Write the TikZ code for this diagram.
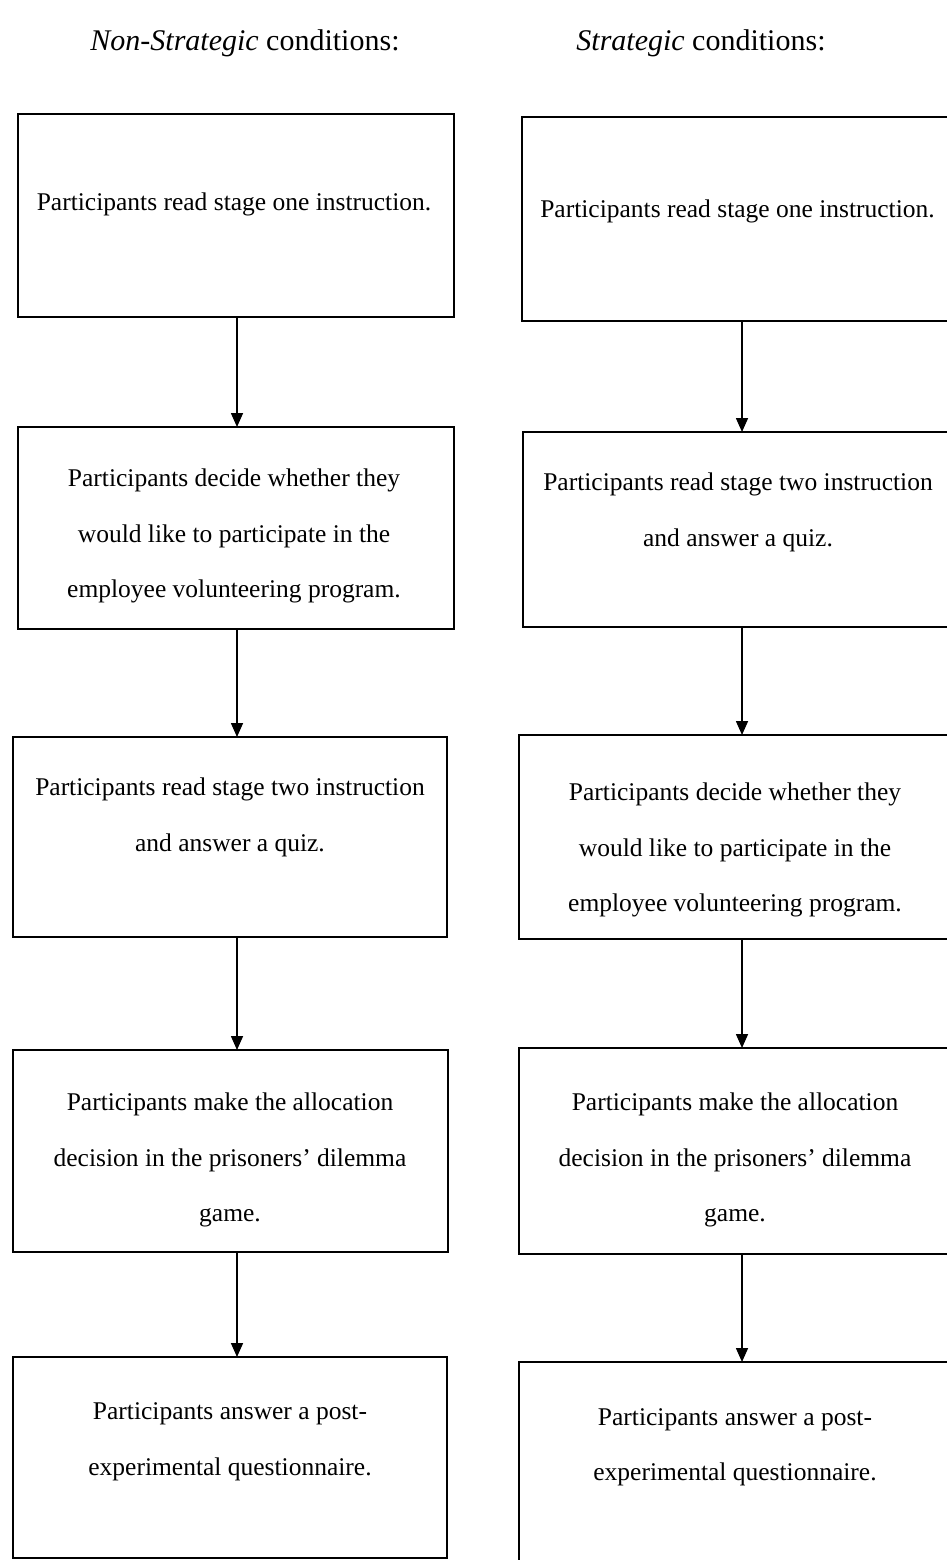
\documentclass[tikz,border=0pt]{standalone}
\usepackage{fontspec}
\setmainfont{Liberation Serif}
\usetikzlibrary{arrows.meta}
\tikzset{
  box/.style={draw=black, line width=1.6pt, rectangle, inner sep=0pt, outer sep=0pt, fill=none},
  txt/.style={align=center, inner sep=0pt, font=\fontsize{25.5}{55.5}\selectfont},
  ttl/.style={inner sep=0pt, font=\fontsize{30}{36}\selectfont},
  arr/.style={line width=1.6pt, -{Triangle[length=14pt,width=12pt]}}
}
\begin{document}
\begin{tikzpicture}[x=1pt,y=-1pt]
\useasboundingbox (0,0) rectangle (947,1560);
\clip (0,0) rectangle (947,1560);
% titles
\node[ttl] (T1) at (245,43) {\textit{Non-Strategic} conditions:};
\node[ttl] (T2) at (701,43) {\textit{Strategic} conditions:};
% left column boxes
\node[box, minimum width=436pt, minimum height=203pt] (L1) at (236,215.5) {};
\node[box, minimum width=436pt, minimum height=202pt] (L2) at (236,528) {};
\node[box, minimum width=434pt, minimum height=200pt] (L3) at (230,837) {};
\node[box, minimum width=435pt, minimum height=202pt] (L4) at (230.5,1151) {};
\node[box, minimum width=434pt, minimum height=201pt] (L5) at (230,1457.5) {};
% right column boxes
\node[box, minimum width=436pt, minimum height=204pt] (R1) at (740,219) {};
\node[box, minimum width=436pt, minimum height=195pt] (R2) at (741,529.5) {};
\node[box, minimum width=436pt, minimum height=204pt] (R3) at (737,837) {};
\node[box, minimum width=436pt, minimum height=206pt] (R4) at (737,1151) {};
\node[box, minimum width=436pt, minimum height=200pt] (R5) at (737,1462) {};
% left texts
\node[txt] (L1t) at (234,199) {\strut Participants read stage one instruction.\strut};
\node[txt] (L2t) at (234,531) {\strut Participants decide whether they\strut\\\strut would like to participate in the\strut\\\strut employee volunteering program.\strut};
\node[txt] (L3t) at (230,812.5) {\strut Participants read stage two instruction\strut\\\strut and answer a quiz.\strut};
\node[txt] (L4t) at (230,1155) {\strut Participants make the allocation\strut\\\strut decision in the prisoners’ dilemma\strut\\\strut game.\strut};
\node[txt] (L5t) at (230,1436.5) {\strut Participants answer a post-\strut\\\strut experimental questionnaire.\strut};
% right texts
\node[txt] (R1t) at (737.5,206) {\strut Participants read stage one instruction.\strut};
\node[txt] (R2t) at (738,507.5) {\strut Participants read stage two instruction\strut\\\strut and answer a quiz.\strut};
\node[txt] (R3t) at (735,845) {\strut Participants decide whether they\strut\\\strut would like to participate in the\strut\\\strut employee volunteering program.\strut};
\node[txt] (R4t) at (735,1155) {\strut Participants make the allocation\strut\\\strut decision in the prisoners’ dilemma\strut\\\strut game.\strut};
\node[txt] (R5t) at (735,1442) {\strut Participants answer a post-\strut\\\strut experimental questionnaire.\strut};
% arrow axes
\coordinate (la) at (237,0);
\coordinate (ra) at (742,0);
% connectors
\draw[arr] (L1.south -| la) -- (L2.north -| la);
\draw[arr] (L2.south -| la) -- (L3.north -| la);
\draw[arr] (L3.south -| la) -- (L4.north -| la);
\draw[arr] (L4.south -| la) -- (L5.north -| la);
\draw[arr] (R1.south -| ra) -- (R2.north -| ra);
\draw[arr] (R2.south -| ra) -- (R3.north -| ra);
\draw[arr] (R3.south -| ra) -- (R4.north -| ra);
\draw[arr] (R4.south -| ra) -- (R5.north -| ra);
\end{tikzpicture}
\end{document}
